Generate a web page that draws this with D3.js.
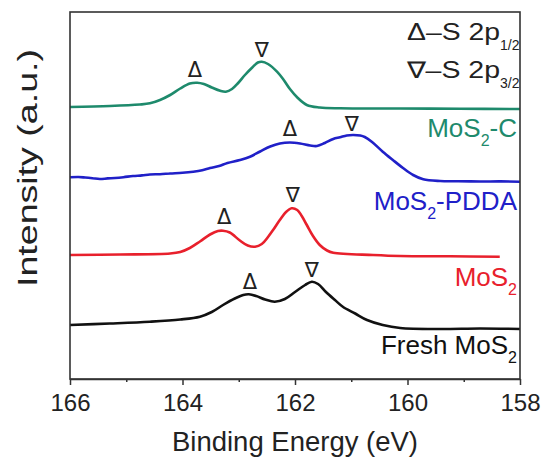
<!DOCTYPE html>
<html>
<head>
<meta charset="utf-8">
<script src="https://cdn.jsdelivr.net/npm/d3@7"></script>
<style>
  html, body { margin: 0; padding: 0; background: #fff; }
  svg { display: block; font-family: "Liberation Sans", Arial, sans-serif; }
</style>
</head>
<body>
<svg id="chart" width="548" height="459"></svg>
<script>
// ---- Data (binding energy in eV, intensity in a.u., spectra offset vertically) ----
const freshE = [166.00,165.29,164.58,164.04,163.69,163.48,163.28,163.07,162.92,162.82,162.69,162.53,162.36,162.18,162.00,161.82,161.70,161.59,161.45,161.29,161.15,160.93,160.72,160.44,160.13,159.42,158.71,158.00];
const freshI = [0.540,0.555,0.573,0.595,0.623,0.670,0.740,0.805,0.840,0.847,0.830,0.795,0.773,0.800,0.870,0.940,0.973,0.950,0.870,0.790,0.723,0.655,0.590,0.540,0.510,0.500,0.505,0.500];

const mos2E = [166.00,165.11,164.22,164.04,163.87,163.69,163.51,163.37,163.28,163.16,162.98,162.84,162.71,162.59,162.48,162.39,162.27,162.16,162.06,161.96,161.88,161.79,161.68,161.56,161.43,161.32,160.61,160.13,159.24,158.36];
const mos2I = [1.240,1.245,1.255,1.270,1.310,1.375,1.445,1.480,1.483,1.465,1.385,1.335,1.323,1.350,1.420,1.490,1.590,1.670,1.707,1.690,1.630,1.540,1.430,1.340,1.285,1.263,1.240,1.230,1.227,1.223];

const pddaE = [166.00,165.85,165.73,165.60,165.47,165.33,165.20,165.05,164.88,164.72,164.58,164.40,164.22,164.00,163.81,163.65,163.51,163.35,163.20,162.98,162.80,162.62,162.44,162.27,162.09,161.91,161.73,161.61,161.47,161.32,161.20,161.08,160.97,160.84,160.76,160.63,160.44,160.26,160.08,159.90,159.72,159.42,159.10,158.71,158.35,158.00];
const pddaI = [2.017,2.020,2.015,2.008,2.000,2.006,2.010,2.018,2.030,2.036,2.045,2.048,2.055,2.062,2.073,2.088,2.110,2.130,2.160,2.190,2.223,2.275,2.325,2.355,2.365,2.355,2.335,2.330,2.360,2.400,2.417,2.435,2.440,2.435,2.420,2.370,2.273,2.190,2.110,2.040,1.997,1.980,1.978,1.975,1.976,1.973];

const carbE = [166.00,165.29,164.76,164.58,164.40,164.22,164.04,163.87,163.74,163.62,163.48,163.33,163.23,163.12,163.01,162.89,162.76,162.66,162.59,162.48,162.32,162.20,162.09,161.95,161.79,161.56,161.20,160.13,159.07,158.00];
const carbI = [2.720,2.730,2.745,2.757,2.790,2.840,2.905,2.955,2.963,2.950,2.915,2.882,2.873,2.900,2.960,3.040,3.115,3.165,3.173,3.150,3.073,2.990,2.900,2.810,2.740,2.715,2.707,2.705,2.702,2.700];

// peak markers: Δ = S 2p1/2, ∇ = S 2p3/2
const markerType   = ["Δ","∇","Δ","∇","Δ","∇","Δ","∇"];
const markerE      = [163.78,162.59,162.09,160.99,163.26,162.04,162.80,161.70];
const markerI      = [3.090,3.290,2.500,2.550,1.620,1.840,0.970,1.090];

const xTicks = [166,164,162,160,158];
const xMinorTicks = [165,163,161,159];

const seriesNames  = ["MoS2-C","MoS2-PDDA","MoS2","Fresh MoS2"];
const seriesColors = ["#1e8a6c","#2020c8","#e8202c","#111111"];

// ---- Layout ----
const svg = d3.select("#chart");
const m = {left: 70, right: 28, top: 12, bottom: 80};
const W = 548, H = 459;
const x = d3.scaleLinear().domain([166, 158]).range([m.left, W - m.right]);
const y = d3.scaleLinear().domain([0, 3.67]).range([H - m.bottom, m.top]);

const line = d3.line()
  .x(d => x(d[0]))
  .y(d => y(d[1]))
  .curve(d3.curveCatmullRom.alpha(0.5));

const series = [
  {key: "carb",  E: carbE,  I: carbI,  color: seriesColors[0]},
  {key: "pdda",  E: pddaE,  I: pddaI,  color: seriesColors[1]},
  {key: "mos2",  E: mos2E,  I: mos2I,  color: seriesColors[2]},
  {key: "fresh", E: freshE, I: freshI, color: seriesColors[3]}
];

svg.append("g").selectAll("path")
  .data(series)
  .join("path")
  .attr("fill", "none")
  .attr("stroke", d => d.color)
  .attr("stroke-width", 2.6)
  .attr("stroke-linejoin", "round")
  .attr("d", d => line(d.E.map((e, i) => [e, d.I[i]])));

// markers
svg.append("g").selectAll("text")
  .data(markerType.map((t, i) => ({t, e: markerE[i], v: markerI[i]})))
  .join("text")
  .attr("x", d => x(d.e))
  .attr("y", d => y(d.v))
  .attr("text-anchor", "middle")
  .attr("dominant-baseline", "central")
  .style("font-family", "'DejaVu Sans', sans-serif")
  .style("font-size", "21px")
  .attr("fill", "#222")
  .text(d => d.t);

// frame
svg.append("rect")
  .attr("x", m.left).attr("y", m.top)
  .attr("width", W - m.left - m.right)
  .attr("height", H - m.top - m.bottom)
  .attr("fill", "none")
  .attr("stroke", "#333")
  .attr("stroke-width", 1.6);

// x axis
const xAxis = d3.axisBottom(x).tickValues(xTicks).tickFormat(d3.format("d"))
  .tickSize(6).tickSizeOuter(0).tickPadding(9);
const gx = svg.append("g").attr("transform", `translate(0,${H - m.bottom})`).call(xAxis);
gx.select(".domain").attr("stroke", "#333").attr("stroke-width", 1.6);
gx.selectAll(".tick line").attr("stroke", "#333").attr("stroke-width", 1.5);
gx.selectAll(".tick text").style("font-size", "24px").style("font-family", "'Liberation Sans', Arial, sans-serif").attr("fill", "#222");

const gxm = svg.append("g").attr("transform", `translate(0,${H - m.bottom})`)
  .call(d3.axisBottom(x).tickValues(xMinorTicks).tickSize(3).tickSizeOuter(0).tickFormat(""));
gxm.select(".domain").remove();
gxm.selectAll(".tick line").attr("stroke", "#333").attr("stroke-width", 1.5);

// axis titles
svg.append("text")
  .attr("x", (x.range()[0] + x.range()[1]) / 2)
  .attr("y", 451)
  .attr("text-anchor", "middle")
  .attr("textLength", 246)
  .attr("lengthAdjust", "spacingAndGlyphs")
  .style("font-size", "27px")
  .attr("fill", "#222")
  .text("Binding Energy (eV)");

svg.append("text")
  .attr("transform", `translate(37,168) rotate(-90)`)
  .attr("text-anchor", "middle")
  .attr("textLength", 238)
  .attr("lengthAdjust", "spacingAndGlyphs")
  .style("font-size", "27px")
  .attr("fill", "#222")
  .text("Intensity (a.u.)");

// series labels (with subscript 2)
const labelRight = x(158) - 3;
function subLabel(pre, sub, post, yBase, color, fs, sfs, dy) {
  const t = svg.append("text")
    .attr("x", labelRight).attr("y", yBase)
    .attr("text-anchor", "end")
    .attr("fill", color)
    .style("font-size", fs + "px");
  t.append("tspan").text(pre);
  t.append("tspan").attr("dy", dy).style("font-size", sfs + "px").text(sub);
  if (post) t.append("tspan").attr("dy", -dy).text(post);
  return t;
}
subLabel("MoS", "2", "-C", 137, seriesColors[0], 26, 16, 9);
subLabel("MoS", "2", "-PDDA", 210, seriesColors[1], 26, 16, 9);
subLabel("MoS", "2", "", 286, seriesColors[2], 26, 16, 9);
subLabel("Fresh MoS", "2", "", 354, "#111", 26, 16, 9);

// legend (start-anchored so the main part can be stretched to the reference width)
function legendLine(main, sub, yBase) {
  const t = svg.append("text")
    .attr("x", x(158) - 113).attr("y", yBase)
    .attr("fill", "#222")
    .style("font-size", "23px");
  t.append("tspan").attr("textLength", 93).attr("lengthAdjust", "spacingAndGlyphs").text(main);
  t.append("tspan").attr("dy", 10).style("font-size", "14px").text(sub);
}
legendLine("Δ–S 2p", "1/2", 40);
legendLine("∇–S 2p", "3/2", 78);
</script>
</body>
</html>
